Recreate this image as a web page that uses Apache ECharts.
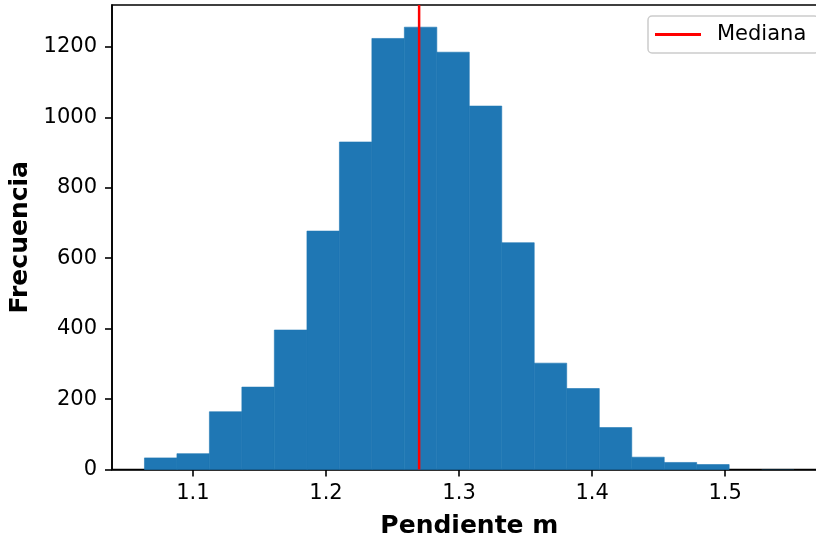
<!DOCTYPE html>
<html>
<head>
<meta charset="utf-8">
<script src="https://cdn.jsdelivr.net/npm/echarts@6/dist/echarts.min.js"></script>
<style>
  html, body { margin: 0; padding: 0; background: #ffffff; }
  #chart { width: 816px; height: 537px; }
</style>
</head>
<body>
<div id="chart"></div>
<script>
// Histogram bin edges (20 bins)
var binEdges = [1.0636, 1.0880, 1.1124, 1.1368, 1.1612, 1.1857, 1.2101, 1.2345, 1.2589, 1.2833,
                1.3077, 1.3321, 1.3565, 1.3809, 1.4054, 1.4298, 1.4542, 1.4786, 1.5030, 1.5274, 1.5518];
// Counts per bin
var binCounts = [33, 45, 164, 234, 396, 677, 930, 1224, 1256, 1185,
                 1032, 644, 302, 230, 119, 35, 20, 14, 0, 1];
var medianValue = 1.27;
var xTicks = [1.1, 1.2, 1.3, 1.4, 1.5];
var yTicks = [0, 200, 400, 600, 800, 1000, 1200];
var xLimits = [1.0392, 1.5763];
var yLimits = [0, 1319];

var histData = [];
for (var i = 0; i < binCounts.length; i++) {
  histData.push([binEdges[i], binEdges[i + 1], binCounts[i]]);
}

var chart = echarts.init(document.getElementById('chart'), null, { renderer: 'canvas' });
var FONT = 'DejaVu Sans';
chart.setOption({
  animation: false,
  backgroundColor: '#ffffff',
  grid: {
    left: 112, top: 5, width: 714.7, height: 464.5,
    containLabel: false, outerBoundsMode: 'none',
    show: true, borderColor: '#000000', borderWidth: 1.6, backgroundColor: 'transparent'
  },
  legend: {
    left: 648, top: 16,
    backgroundColor: 'rgba(255,255,255,0.8)',
    borderColor: '#cccccc', borderWidth: 1.5, borderRadius: 4,
    padding: [8, 12, 8, 7],
    itemWidth: 46, itemHeight: 14,
    textStyle: { fontFamily: FONT, fontSize: 21, color: '#000000', padding: [0, 0, 0, 11] },
    data: [{ name: 'Mediana', icon: 'path://M0,0 L46,0 L46,3 L0,3 Z', itemStyle: { color: '#ff0000' } }]
  },
  xAxis: {
    type: 'value', min: xLimits[0], max: xLimits[1],
    name: 'Pendiente m', nameLocation: 'middle', nameGap: 44,
    nameTextStyle: { fontFamily: FONT, fontSize: 25, fontWeight: 'bold', color: '#000000' },
    splitLine: { show: false },
    axisLine: { show: true, lineStyle: { color: '#000000', width: 1.6 } },
    axisTick: { show: true, inside: false, length: 7, lineStyle: { color: '#000000', width: 1.6 }, customValues: xTicks },
    axisLabel: { fontFamily: FONT, fontSize: 21, color: '#000000', margin: 14, customValues: xTicks,
      formatter: function (v) { return v.toFixed(1); } }
  },
  yAxis: {
    type: 'value', min: yLimits[0], max: yLimits[1],
    name: 'Frecuencia', nameLocation: 'middle', nameGap: 70,
    nameTextStyle: { fontFamily: FONT, fontSize: 25, fontWeight: 'bold', color: '#000000' },
    splitLine: { show: false },
    axisLine: { show: true, lineStyle: { color: '#000000', width: 1.6 } },
    axisTick: { show: true, inside: false, length: 7, lineStyle: { color: '#000000', width: 1.6 }, customValues: yTicks },
    axisLabel: { fontFamily: FONT, fontSize: 21, color: '#000000', margin: 15, customValues: yTicks,
      formatter: function (v) { return String(Math.round(v)); } }
  },
  series: [
    {
      type: 'custom',
      name: 'hist',
      z: 1,
      renderItem: function (params, api) {
        var p0 = api.coord([api.value(0), 0]);
        var p1 = api.coord([api.value(1), api.value(2)]);
        var h = p0[1] - p1[1];
        return {
          type: 'rect',
          shape: { x: p0[0], y: p1[1], width: p1[0] - p0[0], height: h },
          style: h > 2 ? { fill: '#1f77b4', stroke: '#1f77b4', lineWidth: 0.6 } : { fill: '#1f77b4' }
        };
      },
      encode: { x: [0, 1], y: 2 },
      data: histData
    },
    {
      type: 'line',
      name: 'Mediana',
      z: 3,
      symbol: 'none',
      lineStyle: { color: '#ff0000', width: 2.5 },
      itemStyle: { color: '#ff0000' },
      data: [[medianValue, yLimits[0]], [medianValue, yLimits[1]]]
    }
  ]
});
</script>
</body>
</html>
